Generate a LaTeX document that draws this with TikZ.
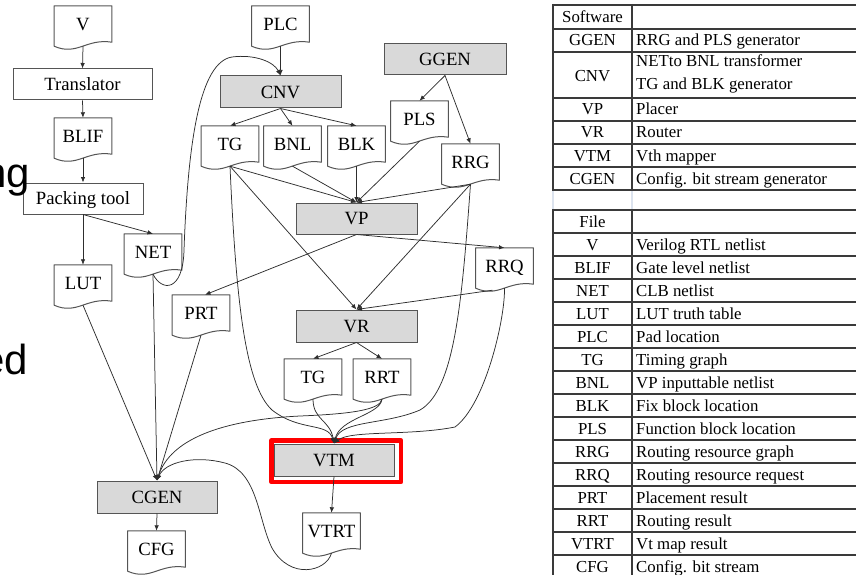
\documentclass[tikz,border=0pt]{standalone}
\usepackage{fontspec}
\setmainfont{Liberation Serif}
\newfontfamily\slidesans{Liberation Sans}
\newfontfamily\chartserif{Liberation Serif}
\usetikzlibrary{arrows.meta,calc}

\definecolor{boxline}{HTML}{555555}
\definecolor{toolfill}{HTML}{D9D9D9}
\definecolor{edgecol}{HTML}{2E2E2E}
\definecolor{framered}{HTML}{FF0000}
\definecolor{rulecol}{HTML}{3A3A3A}
\definecolor{faintrule}{HTML}{DCE3EE}

% document symbol: rectangle with a wavy lower edge
\newcommand\docoutline[1]{%
  \draw[docline] (#1.south west) -- (#1.north west) -- (#1.north east)
    -- ($(#1.south east)+(0,-4)$)
    .. controls ($(#1.south west)!0.55!(#1.south east)+(0,-8)$)
            and ($(#1.south west)!0.4!(#1.south east)+(0,10)$) .. (#1.south west) -- cycle;}

\begin{document}
\begin{tikzpicture}[x=1pt,y=-1pt,
  chartfont/.style={font=\chartserif\fontsize{18.7}{20}\selectfont},
  proc/.style={draw=boxline, line width=1pt, fill=white, minimum height=31, inner sep=0pt,
    text height=12.4pt, text depth=0pt, chartfont},
  tool/.style={proc, fill=toolfill},
  doc/.style={minimum width=57.5, minimum height=40, inner sep=0pt,
    text height=12.4pt, text depth=3pt, chartfont},
  docline/.style={draw=boxline, line width=1pt, line join=round},
  arr/.style={draw=edgecol, line width=0.75pt, -{Latex[length=5.5pt,width=4.5pt]}},
  redframe/.style={draw=framered, line width=4.5pt, line join=round},
  cellc/.style={inner sep=0pt, text height=12pt, text depth=1pt, font=\chartserif\fontsize{16.8}{18}\selectfont},
  celll/.style={cellc, anchor=west},
  thinrule/.style={draw=rulecol, line width=1.1pt},
  thickrule/.style={draw=rulecol, line width=2pt},
  fadedrule/.style={draw=faintrule, line width=2pt},
  frag/.style={inner sep=0pt, anchor=base east, font=\slidesans\fontsize{42}{48}\selectfont}
]
\useasboundingbox (0,0) rectangle (856,575);

% ---------------- flow chart ----------------
\node[doc] (V) at (83,26) {V};
\node[proc, minimum width=139] (Translator) at (82.5,84.5) {Translator};
\node[doc] (BLIF) at (83,138) {BLIF};
\node[proc, minimum width=120] (Packing) at (83,198.5) {Packing tool};
\node[doc] (LUT) at (83,285) {LUT};
\node[doc] (NET) at (153,254) {NET};
\node[doc] (PRT) at (201,315) {PRT};

\node[doc] (PLC) at (280.5,26) {PLC};
\node[tool, minimum width=121, minimum height=32] (CNV) at (280.5,92) {CNV};
\node[doc] (TGa) at (230,146) {TG};
\node[doc] (BNL) at (292.5,146) {BNL};
\node[doc] (BLK) at (356.5,146) {BLK};

\node[tool, minimum width=122] (GGEN) at (445,59.5) {GGEN};
\node[doc] (PLS) at (419.5,121) {PLS};
\node[doc] (RRG) at (470.5,164) {RRG};

\node[tool, minimum width=121] (VP) at (356.5,218.5) {VP};
\node[doc] (RRQ) at (504.5,268) {RRQ};
\node[tool, minimum width=121, minimum height=32] (VR) at (356.5,326) {VR};
\node[doc] (TGb) at (313,379) {TG};
\node[doc] (RRT) at (382,379) {RRT};

\node[tool, minimum width=120, minimum height=32] (VTM) at (334,460) {VTM};
\node[doc] (VTRT) at (331.5,533) {VTRT};
\node[tool, minimum width=120, minimum height=32] (CGEN) at (157,497) {CGEN};
\node[doc] (CFG) at (156.5,551) {CFG};

\foreach \n in {V,BLIF,LUT,NET,PRT,PLC,TGa,BNL,BLK,PLS,RRG,RRQ,TGb,RRT,VTRT,CFG}
  \docoutline{\n};

% highlight around the Vth mapper
\draw[redframe] ($(VTM.north west)+(-2,-3)$) rectangle ($(VTM.south east)+(6.5,5.5)$);

% synthesis and packing
\draw[arr] (V.south) -- (Translator.north);
\draw[arr] (Translator.south) -- (BLIF.north);
\draw[arr] (BLIF.south) -- (Packing.north);
\draw[arr] (Packing.south) -- (LUT.north);
\draw[arr] (Packing.south) -- (NET.north);

% conversion
\draw[arr] (PLC.south) -- (CNV.north);
\draw[arr] (NET.south) .. controls (162,292) and (183,292) .. (184,250)
  .. controls (188,140) and (200,62) .. (232,57)
  .. controls (255,54) and (274,62) .. (CNV.north);
\draw[arr] (CNV.south) -- (TGa.north);
\draw[arr] (CNV.south) -- (BNL.north);
\draw[arr] (CNV.south) -- (BLK.north);
\draw[arr] (GGEN.south) -- (PLS.north);
\draw[arr] (GGEN.south) -- (RRG.north);

% placement
\draw[arr] (TGa.south) -- (VP.north);
\draw[arr] (BNL.south) -- (VP.north);
\draw[arr] (BLK.south) -- (VP.north);
\draw[arr] (PLS.south) -- (VP.north);
\draw[arr] (RRG.south) -- (VP.north);
\draw[arr] (VP.south) -- ([xshift=4pt]PRT.north);
\draw[arr] (VP.south) -- (RRQ.north);

% routing
\draw[arr] (TGa.south) -- (VR.north);
\draw[arr] (RRG.south) -- (VR.north);
\draw[arr] ($(RRQ.south)+(-12,2)$) -- (VR.north);
\draw[arr] (VR.south) -- (TGb.north);
\draw[arr] (VR.south) -- (RRT.north);

% Vth mapping
\draw[arr] (TGa.south) .. controls (236,300) and (245,385) .. (272,410)
  .. controls (300,432) and (328,422) .. (VTM.north);
\draw[arr] (RRG.south) .. controls (462,300) and (455,390) .. (420,410)
  .. controls (385,425) and (342,420) .. (VTM.north);
\draw[arr] (RRQ.south) .. controls (505,320) and (485,405) .. (455,427)
  .. controls (410,436) and (350,430) .. (VTM.north);
\draw[arr] (TGb.south) .. controls (313,420) and (330,420) .. (VTM.north);
\draw[arr] (RRT.south) .. controls (380,415) and (340,418) .. (VTM.north);
\draw[arr] (VTM.south) -- (VTRT.north);

% bit stream generation
\draw[arr] (LUT.south) -- (CGEN.north);
\draw[arr] (NET.south) -- (CGEN.north);
\draw[arr] (PRT.south) -- (CGEN.north);
\draw[arr] (RRT.south) .. controls (380,410) and (350,414) .. (300,416)
  .. controls (220,420) and (170,440) .. (CGEN.north);
\draw[arr] (VTRT.south) .. controls (326,572) and (290,580) .. (272,548)
  .. controls (258,520) and (258,472) .. (225,463)
  .. controls (195,455) and (165,462) .. (CGEN.north);
\draw[arr] (CGEN.south) -- (CFG.north);

% ---------------- legend tables ----------------
\foreach \y in {5,29,52,98,121,144,167,190}
  \draw[thinrule] (552,\y) -- (860,\y);
\draw[thickrule] (553,4) -- (553,191);
\draw[thickrule] (632,4) -- (632,191);
\draw[fadedrule] (553,191) -- (553,209);
\draw[fadedrule] (632,191) -- (632,209);

\node[cellc] (swHead) at (592.5,17) {Software};
\foreach \a/\b/\y [count=\i] in {GGEN/RRG and PLS generator/40.5, VP/Placer/109.5,
    VR/Router/132.5, VTM/Vth mapper/155.5, CGEN/Config. bit stream generator/178.5} {
  \node[cellc] (swName\i) at (592.5,\y) {\a};
  \node[celll] (swText\i) at (636,\y) {\b};
}
\node[cellc] (swCNV) at (592.5,76) {CNV};
\node[celll] (swCNVa) at (636,61) {NETto BNL transformer};
\node[celll] (swCNVb) at (636,84) {TG and BLK generator};

\foreach \y in {210,233,...,578}
  \draw[thinrule] (552,\y) -- (860,\y);
\draw[thickrule] (553,209) -- (553,580);
\draw[thickrule] (632,209) -- (632,580);

\node[cellc] (fileHead) at (592.5,221.5) {File};
\foreach \a/\b [count=\i] in {V/Verilog RTL netlist, BLIF/Gate level netlist,
    NET/CLB netlist, LUT/LUT truth table, PLC/Pad location, TG/Timing graph,
    BNL/VP inputtable netlist, BLK/Fix block location, PLS/Function block location,
    RRG/Routing resource graph, RRQ/Routing resource request, PRT/Placement result,
    RRT/Routing result, VTRT/Vt map result, CFG/Config. bit stream} {
  \pgfmathsetmacro\yy{221.5+23*\i}
  \node[cellc] (fileName\i) at (592.5,\yy) {\a};
  \node[celll] (fileText\i) at (636,\yy) {\b};
}

% pieces of slide text behind the chart, cut by the left edge
\node[frag] (fragA) at (30,187) {ng};
\node[frag] (fragB) at (28,374) {ed};
\end{tikzpicture}
\end{document}
